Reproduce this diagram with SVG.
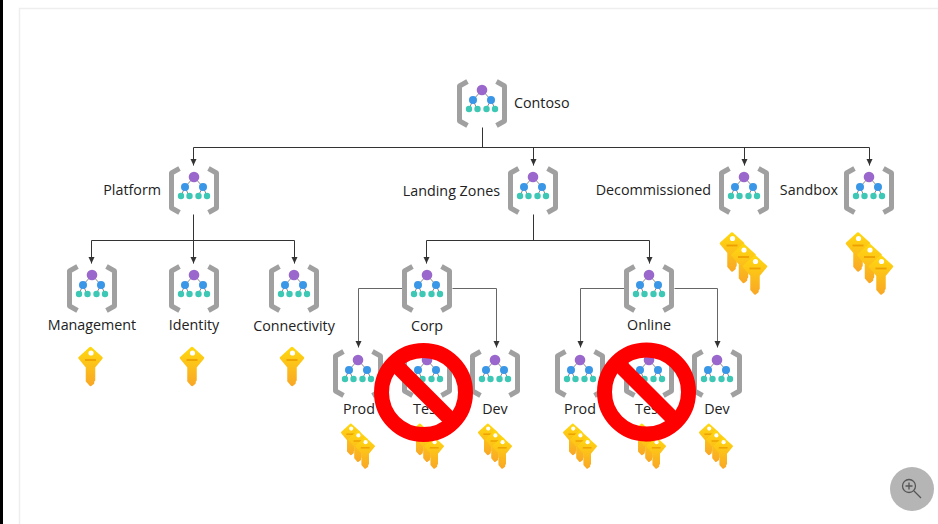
<svg xmlns="http://www.w3.org/2000/svg" width="938" height="524" viewBox="0 0 938 524">
<style>
text{font-family:"Open Sans","Noto Sans","Liberation Sans",sans-serif;font-size:14.300px;fill:#222}
.m{text-anchor:middle}.e{text-anchor:end}
.c{fill:none;stroke:#333;stroke-width:1}
.t{fill:none;stroke:#666;stroke-width:1}
.no{fill:none;stroke:#f00;stroke-width:15}
</style>
<defs>
<marker id="a" markerWidth="7" markerHeight="7" refX="6.500" refY="3" orient="auto" markerUnits="userSpaceOnUse"><path d="M0,0L6.500,3L0,6z" fill="#333"/></marker>
<linearGradient id="g" x1="0" y1="0" x2="0" y2="1"><stop offset="0" stop-color="#ffd70f"/><stop offset="1" stop-color="#f9a825"/></linearGradient>
<g id="mg">
<path d="M-14.500,-21.500L-22.500,-17V18L-14.500,22.500M14.500,-21.500L22.500,-17V18L14.500,22.500" fill="none" stroke="#a0a0a0" stroke-width="5" stroke-linejoin="round"/>
<path d="M0,-13L-9,-3L-13,6M-9,-3L-5,6M0,-13L9,-3L4,6M9,-3L13,6" fill="none" stroke="#8a8a8a" stroke-width="1"/>
<circle cx="0" cy="-13" r="5.300" fill="#9a68cc"/>
<circle cx="-9" cy="-3" r="4" fill="#3a96e6"/><circle cx="9" cy="-3" r="4" fill="#3a96e6"/>
<circle cx="-13" cy="6" r="3.200" fill="#3cc8b4"/><circle cx="-4.500" cy="6" r="3.200" fill="#3cc8b4"/><circle cx="4.500" cy="6" r="3.200" fill="#3cc8b4"/><circle cx="13" cy="6" r="3.200" fill="#3cc8b4"/>
</g>
<g id="k">
<path d="M0,-12L11,-2L3.500,7V20L2.500,21V23L0,25L-3.500,21V7L-11,-2Z" fill="url(#g)" stroke="url(#g)" stroke-width="2.500" stroke-linejoin="round"/>
<circle cx="0.500" cy="-7" r="2.600" fill="#fff"/>
<path d="M-5.500,0H5.500" stroke="#eda000" stroke-width="1.800"/>
</g>
<g id="k3"><use href="#k" x="-11.500" y="-11.500"/><use href="#k" x="0" y="0"/><use href="#k" x="11.500" y="11.500"/></g>
<g id="k3s"><use href="#k" x="-9" y="-8.500" transform="scale(1)"/><use href="#k"/><use href="#k" x="9" y="8.500"/></g>
</defs>
<rect width="938" height="524" fill="#fff"/>
<rect x="0" y="0" width="3" height="524" fill="#000"/>
<path d="M19.500,524V8.500H938" fill="none" stroke="#eeeeee" stroke-width="1.500"/>
<g id="connectors" transform="translate(.5 .5)">
<path class="c" d="M482,127V147M193,147H869"/>
<path class="c" d="M193,147V165" marker-end="url(#a)"/><path class="c" d="M533,147V165" marker-end="url(#a)"/><path class="c" d="M744,147V165" marker-end="url(#a)"/><path class="c" d="M869,147V165" marker-end="url(#a)"/>
<path class="c" d="M193,214V240M91,240H294"/>
<path class="c" d="M91,240V263" marker-end="url(#a)"/><path class="c" d="M193,240V263" marker-end="url(#a)"/><path class="c" d="M294,240V263" marker-end="url(#a)"/>
<path class="c" d="M533,214V240M426,240H649"/>
<path class="c" d="M426,240V263" marker-end="url(#a)"/><path class="c" d="M649,240V263" marker-end="url(#a)"/>
<path class="t" d="M402,288H358V347" marker-end="url(#a)"/><path class="t" d="M452,288H496V347" marker-end="url(#a)"/>
<path class="t" d="M624,288H580V347" marker-end="url(#a)"/><path class="t" d="M674,288H717V347" marker-end="url(#a)"/>
</g>
<g id="n-contoso"><use href="#mg" x="482" y="103"/><text x="514" y="108">Contoso</text></g>
<g id="n-platform"><use href="#mg" x="194" y="190"/><text class="e" x="161" y="195">Platform</text></g>
<g id="n-landing"><use href="#mg" x="533" y="190"/><text class="e" x="500" y="196">Landing Zones</text></g>
<g id="n-decom"><use href="#mg" x="744" y="190"/><text class="e" x="711" y="195">Decommissioned</text><use href="#k3" x="743.500" y="257"/></g>
<g id="n-sandbox"><use href="#mg" x="869" y="190"/><text class="e" x="838" y="195">Sandbox</text><use href="#k3" x="869.500" y="257"/></g>
<g id="n-management"><use href="#mg" x="92" y="288"/><text class="m" x="92" y="330">Management</text><use href="#k" x="90.500" y="360"/></g>
<g id="n-identity"><use href="#mg" x="194" y="288"/><text class="m" x="194" y="330">Identity</text><use href="#k" x="192" y="360"/></g>
<g id="n-connectivity"><use href="#mg" x="294" y="288"/><text class="m" x="294" y="331">Connectivity</text><use href="#k" x="292" y="360"/></g>
<g id="n-corp"><use href="#mg" x="427" y="288"/><text class="m" x="427" y="331">Corp</text></g>
<g id="n-online"><use href="#mg" x="649" y="288"/><text class="m" x="649" y="330">Online</text></g>
<g id="n-prod1"><use href="#mg" x="358" y="373"/><text class="m" x="359" y="414">Prod</text><use href="#k3s" transform="translate(358 441) scale(.8)"/></g>
<g id="n-test1"><use href="#mg" x="427" y="373"/><text class="m" x="427" y="414">Test</text><use href="#k3s" transform="translate(427 441) scale(.8)"/></g>
<g id="n-dev1"><use href="#mg" x="495" y="373"/><text class="m" x="495" y="414">Dev</text><use href="#k3s" transform="translate(495 441) scale(.8)"/></g>
<g id="n-prod2"><use href="#mg" x="580" y="373"/><text class="m" x="580" y="414">Prod</text><use href="#k3s" transform="translate(580 441) scale(.8)"/></g>
<g id="n-test2"><use href="#mg" x="649" y="373"/><text class="m" x="649" y="414">Test</text><use href="#k3s" transform="translate(649 441) scale(.8)"/></g>
<g id="n-dev2"><use href="#mg" x="717" y="373"/><text class="m" x="717" y="414">Dev</text><use href="#k3s" transform="translate(716 441) scale(.8)"/></g>
<g id="no1" class="no"><circle cx="423.500" cy="392.500" r="42"/><path d="M394,363L453,422"/></g>
<g id="no2" class="no"><circle cx="646.500" cy="392" r="42"/><path d="M617,362.500L676,421.500"/></g>
<g id="zoom"><circle cx="912" cy="489" r="22" fill="#b5b5b5"/><circle cx="909" cy="486" r="6.500" fill="none" stroke="#555" stroke-width="1.300"/><path d="M914,491L921,498M905.500,486H912.500M909,482.500V489.500" fill="none" stroke="#555" stroke-width="1.300"/></g>
</svg>
